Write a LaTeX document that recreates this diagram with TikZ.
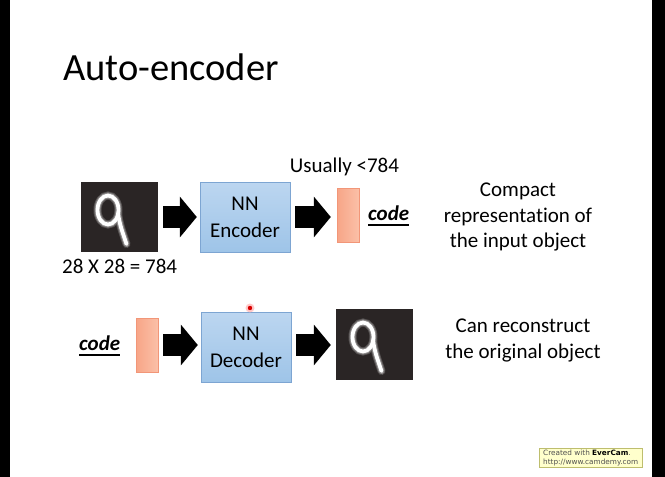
\documentclass[tikz,border=0pt]{standalone}
\usepackage{fontspec}
\setmainfont[Ligatures=NoCommon]{Carlito}
\newfontfamily\wmfont{DejaVu Sans}
\usetikzlibrary{calc,positioning,arrows.meta}
\definecolor{boxblue}{RGB}{188,214,240}
\definecolor{boxbluedark}{RGB}{158,196,232}
\definecolor{boxedge}{RGB}{125,165,210}
\definecolor{codeorange}{RGB}{247,165,135}
\definecolor{codelight}{RGB}{251,192,168}
\definecolor{codeedge}{RGB}{242,150,120}
\definecolor{imgdark}{RGB}{42,37,37}
\definecolor{wmyellow}{RGB}{255,255,204}
\definecolor{wmedge}{RGB}{190,190,110}
\definecolor{wmtext}{RGB}{80,80,80}

\tikzset{
  nnbox/.style={draw=boxedge, top color=boxblue, bottom color=boxbluedark,
    minimum width=90pt, minimum height=70pt, inner sep=0pt, align=center,
    font=\fontsize{21}{27}\selectfont},
  codebar/.style={draw=codeedge, left color=codeorange, right color=codelight,
    minimum width=22pt, minimum height=54pt, inner sep=0pt},
  digit/.style={fill=imgdark, minimum width=77pt, minimum height=70pt, inner sep=0pt},
  bigarrow/.style={line width=22pt, -{Triangle[length=17pt,width=40pt]}},
  txt/.style={font=\fontsize{21}{25.5}\selectfont, align=center, inner sep=0pt},
  codelbl/.style={font=\fontsize{21}{24}\selectfont\bfseries\itshape, inner sep=0pt},
  nine/.pic={
    % soft glow, then the stroke
    \foreach \w/\c in {8/20, 6/45, 3.8/100}{
      \draw[white!\c!imgdark, line width=\w pt, line cap=round]
        (-11.5,-7) ellipse [x radius=10.5, y radius=14.5];
      \draw[white!\c!imgdark, line width=\w pt, line cap=round]
        (-1.5,-4) .. controls (0,8) and (4,18) .. (7,27);
    }
  }
}

\begin{document}
\begin{tikzpicture}[x=1pt, y=-1pt]
  % slide frame
  \fill[white] (0,0) rectangle (665,477);
  \fill[black] (0,0) rectangle (10,477);
  \fill[black] (652,0) rectangle (665,477);
  \useasboundingbox (0,0) rectangle (665,477);

  \node[anchor=base west, inner sep=0pt, font=\fontsize{38.5}{40}\selectfont] (title) at (63,80) {Auto-encoder};

  % encoder row
  \node[digit] (img1) at (119.5,217) {};
  \pic at (img1.center) {nine};
  \node[nnbox] (enc) at (245,217) {NN\\Encoder};
  \node[codebar] (code1) at (348,215) {};
  \node[codelbl, anchor=base west] (lbl1) at (368,220) {code};
  \draw[line width=1.3pt] ([yshift=-5pt]lbl1.base west) -- ([yshift=-5pt]lbl1.base east);
  \node[txt, anchor=base] (usually) at (344.5,172) {Usually <784};
  \node[txt, anchor=base west] (size) at (62,273) {28 X 28 = 784};
  \node[txt] (compact) at (518,217) {Compact\\representation of\\the input object};
  \draw[bigarrow] ([xshift=5pt]img1.east) -- ([xshift=-3pt]enc.west);
  \draw[bigarrow] ([xshift=5pt]enc.east) -- ([xshift=-6pt]code1.west |- enc.east);

  % decoder row
  \node[codelbl, anchor=base west] (lbl2) at (79,350) {code};
  \draw[line width=1.3pt] ([yshift=-5pt]lbl2.base west) -- ([yshift=-5pt]lbl2.base east);
  \node[codebar] (code2) at (147,345) {};
  \node[nnbox] (dec) at (246,347) {NN\\Decoder};
  \node[digit, minimum height=71pt] (img2) at (374.5,344) {};
  \pic at (img2.center) {nine};
  \node[txt] (recon) at (523,340.5) {Can reconstruct\\the original object};
  \draw[bigarrow] ([xshift=5pt]code2.east) -- ([xshift=-3pt]code2.east -| dec.west);
  \draw[bigarrow] ([xshift=5pt]dec.east |- code2.east) -- ([xshift=-5pt]img2.west |- code2.east);

  % pointer dot
  \fill[red!30, opacity=0.7] (250,308) circle (4.5pt);
  \fill[red!85!black] (250,308) circle (2.2pt);

  % watermark
  \node[draw=wmedge, fill=wmyellow, anchor=north west, minimum width=103pt, minimum height=19pt,
    inner xsep=2pt, inner ysep=1.5pt, align=left, text=wmtext,
    font=\wmfont\fontsize{7.3}{8.8}\selectfont] (wm) at (539,448)
    {Created with {\bfseries\color{black}EverCam}.\\http://www.camdemy.com};
\end{tikzpicture}
\end{document}
